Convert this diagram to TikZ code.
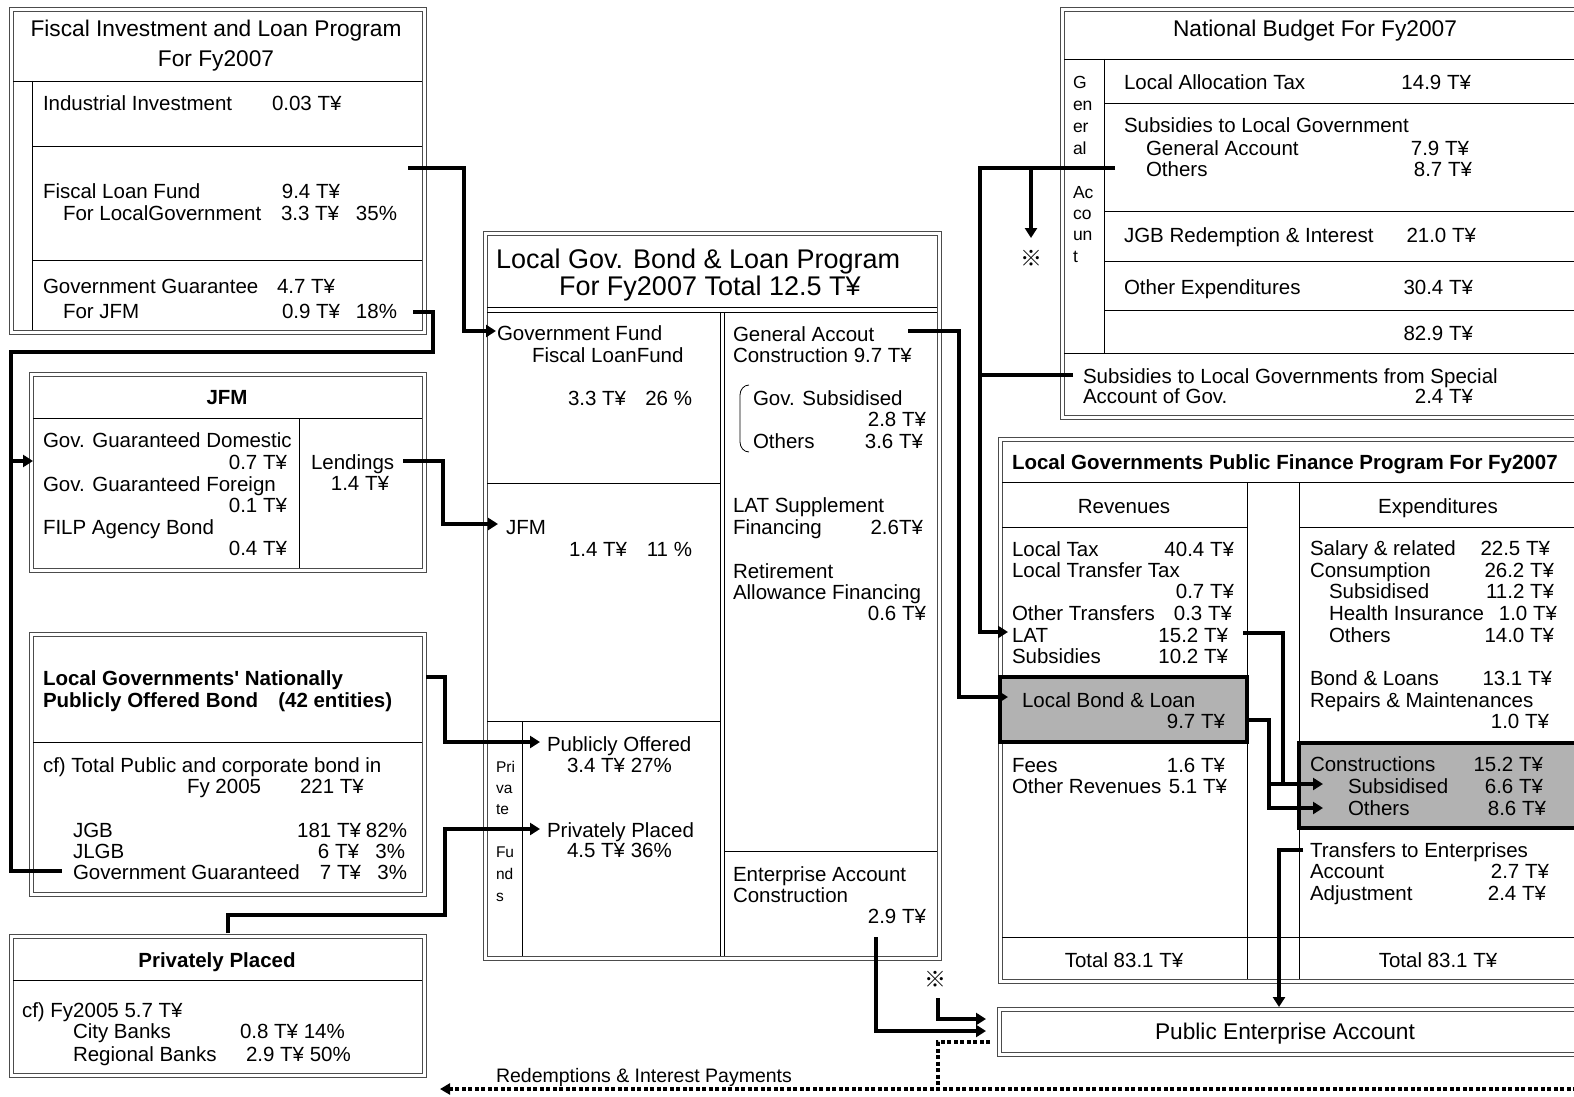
\documentclass[tikz,border=0pt]{standalone}
\usepackage{fontspec}
\setmainfont{Liberation Sans}
\newfontfamily\cjkf{Noto Sans CJK JP}
\usetikzlibrary{arrows.meta}
\newcommand\TL[5][]{\node[txt,#1,anchor=base west] (#2) at (#3,#4) {#5};}
\newcommand\TR[5][]{\node[txt,#1,anchor=base east] (#2) at (#3,#4) {#5};}
\newcommand\TC[5][]{\node[txt,#1,anchor=base] (#2) at (#3,#4) {#5};}
\begin{document}
\begin{tikzpicture}[x=1pt,y=-1pt,
 txt/.style={inner sep=0pt,outer sep=0pt,font=\fontsize{20.5}{22}\selectfont},
 bigt/.style={font=\fontsize{22.7}{26}\selectfont},
 hugt/.style={font=\fontsize{27}{30}\selectfont},
 boldt/.style={font=\fontsize{20.5}{22}\selectfont\bfseries},
 smallt/.style={font=\fontsize{15.5}{18}\selectfont},
 vertt/.style={font=\fontsize{17.5}{20}\selectfont},
 redt/.style={font=\fontsize{19.5}{22}\selectfont},
 refmark/.style={font=\cjkf\fontsize{22}{24}\selectfont},
 boxline/.style={draw=black!70,line width=0.8pt},
 sepline/.style={draw=black,line width=0.8pt},
 conn/.style={draw=black,line width=3.5pt},
 arr/.style={conn,-{Triangle[length=10pt,width=12pt]}},
 dotline/.style={draw=black,line width=3.5pt,dash pattern=on 4pt off 2.5pt},
 gbox/.style={fill=gray!60,draw=black,line width=4pt}]
\useasboundingbox (0,0) rectangle (1574,1097);
\clip (0,0) rectangle (1574,1097);
\fill[white] (0,0) rectangle (1574,1097);
% ---------- box 1 : FILP
\draw[boxline] (9,7) rectangle (426,334);
\draw[boxline] (13,11) rectangle (422,330);
\draw[sepline] (13,81) -- (422,81);
\draw[sepline] (32,81) -- (32,330);
\draw[sepline] (32,146) -- (422,146);
\draw[sepline] (32,260) -- (422,260);
% ---------- box 2 : JFM
\draw[boxline] (29,372) rectangle (426,572);
\draw[boxline] (33,376) rectangle (422,568);
\draw[sepline] (33,418) -- (422,418);
\draw[sepline] (299,418) -- (299,568);
% ---------- box 3 : bond
\draw[boxline] (29,632) rectangle (426,896);
\draw[boxline] (33,636) rectangle (422,892);
\draw[sepline] (33,742) -- (422,742);
% ---------- box 4 : privately placed
\draw[boxline] (9,934) rectangle (426,1077);
\draw[boxline] (13,938) rectangle (422,1073);
\draw[sepline] (13,980) -- (422,980);
% ---------- box 5 : middle
\draw[boxline] (483,231) rectangle (941,960);
\draw[boxline] (487,235) rectangle (937,956);
\draw[sepline] (487,307) -- (937,307);
\draw[sepline] (487,312) -- (937,312);
\draw[sepline] (720,312) -- (720,956);
\draw[sepline] (724,312) -- (724,956);
\draw[sepline] (487,483) -- (720,483);
\draw[sepline] (487,721) -- (720,721);
\draw[sepline] (522,721) -- (522,956);
\draw[sepline] (724,851) -- (937,851);
\draw[line width=0.8pt] (749,385) to[out=180,in=90] (740,395) -- (740,442) to[out=-90,in=180] (749,452);
% ---------- box 6 : national budget
\draw[boxline] (1060,7) rectangle (1620,419);
\draw[boxline] (1064,11) rectangle (1616,415);
\draw[sepline] (1064,59) -- (1620,59);
\draw[sepline] (1104,59) -- (1104,353);
\draw[sepline] (1064,353) -- (1620,353);
\foreach \yy in {103,211,261,310} \draw[sepline] (1104,\yy) -- (1620,\yy);
% ---------- box 7 : local gov public finance
\draw[boxline] (998,437) rectangle (1620,983);
\draw[boxline] (1002,441) rectangle (1616,979);
\draw[sepline] (1002,482) -- (1620,482);
\draw[sepline] (1247,482) -- (1247,979);
\draw[sepline] (1299,482) -- (1299,979);
\draw[sepline] (1002,527) -- (1247,527);
\draw[sepline] (1299,527) -- (1620,527);
\draw[sepline] (1002,937) -- (1620,937);
\draw[gbox] (1000,677) rectangle (1247,742);
\draw[gbox] (1299,743) rectangle (1640,828);
% ---------- box 8 : public enterprise
\draw[boxline] (997,1007) rectangle (1620,1056);
\draw[boxline] (1001,1011) rectangle (1616,1052);

% ================= texts
% box1
\TC[bigt]{a1}{216}{37}{Fiscal Investment and Loan Program}
\TC[bigt]{a2}{216}{67}{For Fy2007}
\TL{a3}{43}{111}{Industrial Investment}
\TL{a4}{272}{111}{0.03 T¥}
\TL{a5}{43}{198}{Fiscal Loan Fund}
\TR{a6}{340}{198}{9.4 T¥}
\TL{a7}{63}{220}{For LocalGovernment}
\TL{a8}{281}{220}{3.3 T¥}
\TR{a9}{397}{220}{35\%}
\TL{a10}{43}{293}{Government Guarantee}
\TL{a11}{277}{293}{4.7 T¥}
\TL{a12}{63}{318}{For JFM}
\TL{a13}{282}{318}{0.9 T¥}
\TR{a14}{397}{318}{18\%}
% box2
\TC[boldt]{b1}{227}{404}{JFM}
\TL{b2}{43}{447}{Gov. Guaranteed Domestic}
\TR{b3}{287}{469}{0.7 T¥}
\TL{b4}{43}{491}{Gov. Guaranteed Foreign}
\TR{b5}{287}{512}{0.1 T¥}
\TL{b6}{43}{534}{FILP Agency Bond}
\TR{b7}{287}{555}{0.4 T¥}
\TL{b8}{311}{469}{Lendings}
\TR{b9}{389}{490}{1.4 T¥}
% box3
\TL[boldt]{c1}{43}{685}{Local Governments\textquotesingle{} Nationally}
\TL[boldt]{c2}{43}{707}{Publicly Offered Bond\hspace{20pt}(42 entities)}
\TL{c3}{43}{772}{cf) Total Public and corporate bond in}
\TL{c4}{187}{793}{Fy 2005}
\TL{c5}{300}{793}{221 T¥}
\TL{c6}{73}{837}{JGB}
\TR{c7}{361}{837}{181 T¥}
\TR{c8}{407}{837}{82\%}
\TL{c9}{73}{858}{JLGB}
\TR{c10}{359}{858}{6 T¥}
\TR{c11}{405}{858}{3\%}
\TL{c12}{73}{879}{Government Guaranteed}
\TR{c13}{361}{879}{7 T¥}
\TR{c14}{407}{879}{3\%}
% box4
\TC[boldt]{d1}{217}{967}{Privately Placed}
\TL{d2}{22}{1017}{cf) Fy2005 5.7 T¥}
\TL{d3}{73}{1038}{City Banks}
\TL{d4}{240}{1038}{0.8 T¥ 14\%}
\TL{d5}{73}{1061}{Regional Banks}
\TL{d6}{246}{1061}{2.9 T¥ 50\%}
% box5
\TL[hugt]{e1}{496}{268}{Local Gov. Bond \& Loan Program}
\TL[hugt]{e2}{559}{295}{For Fy2007 Total 12.5 T¥}
\TL{e3}{497}{340}{Government Fund}
\TL{e4}{532}{362}{Fiscal LoanFund}
\TL{e5}{568}{405}{3.3 T¥}
\TR{e6}{692}{405}{26 \%}
\TL{e7}{506}{534}{JFM}
\TL{e8}{569}{556}{1.4 T¥}
\TR{e9}{692}{556}{11 \%}
\TL{e10}{547}{751}{Publicly Offered}
\TL{e11}{567}{772}{3.4 T¥ 27\%}
\TL{e12}{547}{837}{Privately Placed}
\TL{e13}{567}{857}{4.5 T¥ 36\%}
\TL[smallt]{p1}{496}{772}{Pri}
\TL[smallt]{p2}{496}{793}{va}
\TL[smallt]{p3}{496}{814}{te}
\TL[smallt]{p4}{496}{857}{Fu}
\TL[smallt]{p5}{496}{879}{nd}
\TL[smallt]{p6}{496}{901}{s}
\TL{f1}{733}{341}{General Accout}
\TL{f2}{733}{362}{Construction 9.7 T¥}
\TL{f3}{753}{405}{Gov. Subsidised}
\TR{f4}{926}{426}{2.8 T¥}
\TL{f5}{753}{448}{Others}
\TR{f6}{923}{448}{3.6 T¥}
\TL{f7}{733}{512}{LAT Supplement}
\TL{f8}{733}{534}{Financing}
\TR{f9}{923}{534}{2.6T¥}
\TL{f10}{733}{578}{Retirement}
\TL{f11}{733}{599}{Allowance Financing}
\TR{f12}{926}{620}{0.6 T¥}
\TL{f13}{733}{881}{Enterprise Account}
\TL{f14}{733}{902}{Construction}
\TR{f15}{926}{923}{2.9 T¥}
% box6
\TC[bigt]{g1}{1315}{37}{National Budget For Fy2007}
\TL[vertt]{v1}{1073}{89}{G}
\TL[vertt]{v2}{1073}{111}{en}
\TL[vertt]{v3}{1073}{133}{er}
\TL[vertt]{v4}{1073}{154}{al}
\TL[vertt]{v5}{1073}{198}{Ac}
\TL[vertt]{v6}{1073}{219}{co}
\TL[vertt]{v7}{1073}{240}{un}
\TL[vertt]{v8}{1073}{262}{t}
\TL{g2}{1124}{90}{Local Allocation Tax}
\TR{g3}{1471}{90}{14.9 T¥}
\TL{g4}{1124}{133}{Subsidies to Local Government}
\TL{g5}{1146}{155}{General Account}
\TR{g6}{1469}{155}{7.9 T¥}
\TL{g7}{1146}{176}{Others}
\TR{g8}{1472}{176}{8.7 T¥}
\TL{g9}{1124}{242}{JGB Redemption \& Interest}
\TR{g10}{1476}{242}{21.0 T¥}
\TL{g11}{1124}{294}{Other Expenditures}
\TR{g12}{1473}{294}{30.4 T¥}
\TR{g13}{1473}{340}{82.9 T¥}
\TL{g14}{1083}{383}{Subsidies to Local Governments from Special}
\TL{g15}{1083}{403}{Account of Gov.}
\TR{g16}{1473}{403}{2.4 T¥}
% box7
\TL[boldt]{h1}{1012}{469}{Local Governments Public Finance Program For Fy2007}
\TC{h2}{1124}{513}{Revenues}
\TC{h3}{1438}{513}{Expenditures}
\TL{h4}{1012}{556}{Local Tax}
\TR{h5}{1234}{556}{40.4 T¥}
\TL{h6}{1012}{577}{Local Transfer Tax}
\TR{h7}{1234}{598}{0.7 T¥}
\TL{h8}{1012}{620}{Other Transfers}
\TR{h9}{1232}{620}{0.3 T¥}
\TL{h10}{1012}{642}{LAT}
\TR{h11}{1228}{642}{15.2 T¥}
\TL{h12}{1012}{663}{Subsidies}
\TR{h13}{1228}{663}{10.2 T¥}
\TL{h14}{1022}{707}{Local Bond \& Loan}
\TR{h15}{1225}{728}{9.7 T¥}
\TL{h16}{1012}{772}{Fees}
\TR{h17}{1225}{772}{1.6 T¥}
\TL{h18}{1012}{793}{Other Revenues}
\TR{h19}{1227}{793}{5.1 T¥}
\TC{h20}{1124}{967}{Total 83.1 T¥}
\TC{h21}{1438}{967}{Total 83.1 T¥}
\TL{k1}{1310}{555}{Salary \& related}
\TR{k2}{1550}{555}{22.5 T¥}
\TL{k3}{1310}{577}{Consumption}
\TR{k4}{1554}{577}{26.2 T¥}
\TL{k5}{1329}{598}{Subsidised}
\TR{k6}{1554}{598}{11.2 T¥}
\TL{k7}{1329}{620}{Health Insurance}
\TR{k8}{1557}{620}{1.0 T¥}
\TL{k9}{1329}{642}{Others}
\TR{k10}{1554}{642}{14.0 T¥}
\TL{k11}{1310}{685}{Bond \& Loans}
\TR{k12}{1552}{685}{13.1 T¥}
\TL{k13}{1310}{707}{Repairs \& Maintenances}
\TR{k14}{1549}{728}{1.0 T¥}
\TL{k15}{1310}{771}{Constructions}
\TR{k16}{1543}{771}{15.2 T¥}
\TL{k17}{1348}{793}{Subsidised}
\TR{k18}{1543}{793}{6.6 T¥}
\TL{k19}{1348}{815}{Others}
\TR{k20}{1546}{815}{8.6 T¥}
\TL{k21}{1310}{857}{Transfers to Enterprises}
\TL{k22}{1310}{878}{Account}
\TR{k23}{1549}{878}{2.7 T¥}
\TL{k24}{1310}{900}{Adjustment}
\TR{k25}{1546}{900}{2.4 T¥}
% box8 and misc
\TC[bigt]{m1}{1285}{1039}{Public Enterprise Account}
\TL[redt]{m2}{496}{1082}{Redemptions \& Interest Payments}
\node[txt,refmark] (ref1) at (1031,258) {※};
\node[txt,refmark] (ref2) at (935,979) {※};

% ================= connectors
\coordinate (s1) at (408,168);  \coordinate (t1) at (496,331);
\draw[arr] (s1) -- (464,168) -- (464,331) -- (t1);
\coordinate (s2) at (413,312);  \coordinate (s2b) at (62,871); \coordinate (t2) at (33,461);
\draw[conn,line join=miter] (s2) -- (433,312) -- (433,352) -- (11,352) -- (11,871) -- (s2b);
\draw[arr] (11,461) -- (t2);
\coordinate (s3) at (403,461);  \coordinate (t3) at (498,524);
\draw[arr] (s3) -- (443,461) -- (443,524) -- (t3);
\coordinate (s4) at (426,677);  \coordinate (t4) at (540,742);
\draw[arr] (s4) -- (445,677) -- (445,742) -- (t4);
\coordinate (s5) at (228,933);  \coordinate (t5) at (540,829);
\draw[arr] (s5) -- (228,915) -- (445,915) -- (445,829) -- (t5);
\coordinate (s6) at (908,331);  \coordinate (t6) at (1008,697);
\draw[arr] (s6) -- (959,331) -- (959,697) -- (t6);
\coordinate (s7) at (1115,168); \coordinate (t7) at (1008,632);
\draw[arr] (s7) -- (980,168) -- (980,632) -- (t7);
\coordinate (s7b) at (1073,375);
\draw[conn] (s7b) -- (980,375);
\coordinate (t7b) at (1031,238);
\draw[arr] (1031,168) -- (t7b);
\coordinate (s8) at (1243,633); \coordinate (t8) at (1323,784);
\draw[arr] (s8) -- (1283,633) -- (1283,784) -- (t8);
\coordinate (s9) at (1249,720); \coordinate (t9) at (1323,808);
\draw[arr] (s9) -- (1269,720) -- (1269,808) -- (t9);
\draw[conn] (1269,784) -- (1283,784);
\coordinate (s10) at (1303,850); \coordinate (t10) at (1279,1007);
\draw[arr] (s10) -- (1279,850) -- (t10);
\coordinate (s11) at (876,937); \coordinate (t11) at (986,1031);
\draw[arr] (s11) -- (876,1031) -- (t11);
\coordinate (s12) at (938,998); \coordinate (t12) at (986,1019);
\draw[arr] (s12) -- (938,1019) -- (t12);
\coordinate (s13) at (990,1042); \coordinate (t13) at (440,1089);
\draw[dotline] (s13) -- (938,1042) -- (938,1089);
\draw[dotline,-{Triangle[length=10pt,width=11pt]}] (1590,1089) -- (t13);
\end{tikzpicture}
\end{document}
